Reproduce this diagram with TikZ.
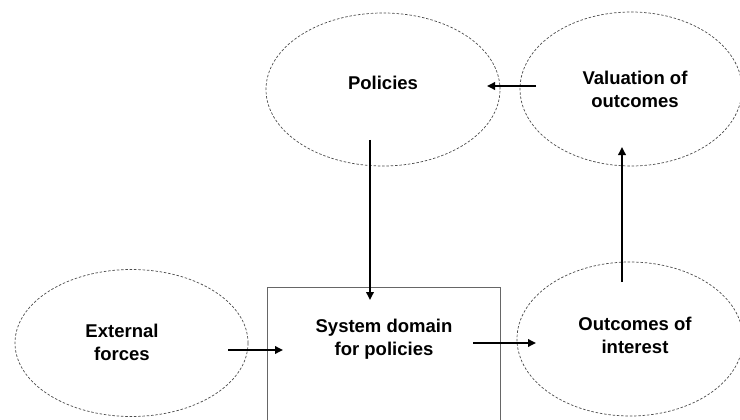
\documentclass[tikz,border=0pt]{standalone}
\usepackage{fontspec}
\setmainfont{Liberation Sans}
\usetikzlibrary{shapes.geometric,arrows.meta}
\begin{document}
\begin{tikzpicture}[x=1pt,y=-1pt,
  oval/.style={ellipse,draw=black!70,line width=0.7pt,dash pattern=on 2.5pt off 1.8pt,inner sep=0pt},
  lbl/.style={font=\fontsize{18.5}{23}\selectfont\bfseries,align=center,inner sep=0pt},
  sysbox/.style={draw=black!60,line width=0.9pt,minimum width=233pt,minimum height=170pt,inner sep=0pt},
  conn/.style={line width=1.8pt,-{Triangle[length=8pt,width=7.5pt]}}]
\clip (0,0) rectangle (740,420);
\fill[white] (0,0) rectangle (740,420);
% shapes
\node[oval,minimum width=234pt,minimum height=153pt] (pol) at (383,89.5) {};
\node[oval,minimum width=222pt,minimum height=154pt] (val) at (631,89) {};
\node[oval,minimum width=233pt,minimum height=147pt] (ext) at (131.5,343) {};
\node[oval,minimum width=226pt,minimum height=154pt] (out) at (630,339) {};
\node[sysbox,anchor=north west] (sys) at (267,287) {};
% labels
\node[lbl] (poll) at (383,83) {Policies};
\node[lbl] (vall) at (635,89) {Valuation of\\outcomes};
\node[lbl] (extl) at (122,342) {External\\forces};
\node[lbl] (sysl) at (384,339) {System domain\\for policies};
\node[lbl] (outl) at (635,335) {Outcomes of\\interest};
% connector ends
\coordinate (a1) at (536,86);   \coordinate (b1) at (487,86);
\coordinate (a2) at (370,140);  \coordinate (b2) at (370,300);
\coordinate (a3) at (228,350);  \coordinate (b3) at (283,350);
\coordinate (a4) at (473,343);  \coordinate (b4) at (536,343);
\coordinate (a5) at (622,282);  \coordinate (b5) at (622,147);
\draw[conn] (a1) -- (b1);
\draw[conn] (a2) -- (b2);
\draw[conn] (a3) -- (b3);
\draw[conn] (a4) -- (b4);
\draw[conn] (a5) -- (b5);
\end{tikzpicture}
\end{document}
